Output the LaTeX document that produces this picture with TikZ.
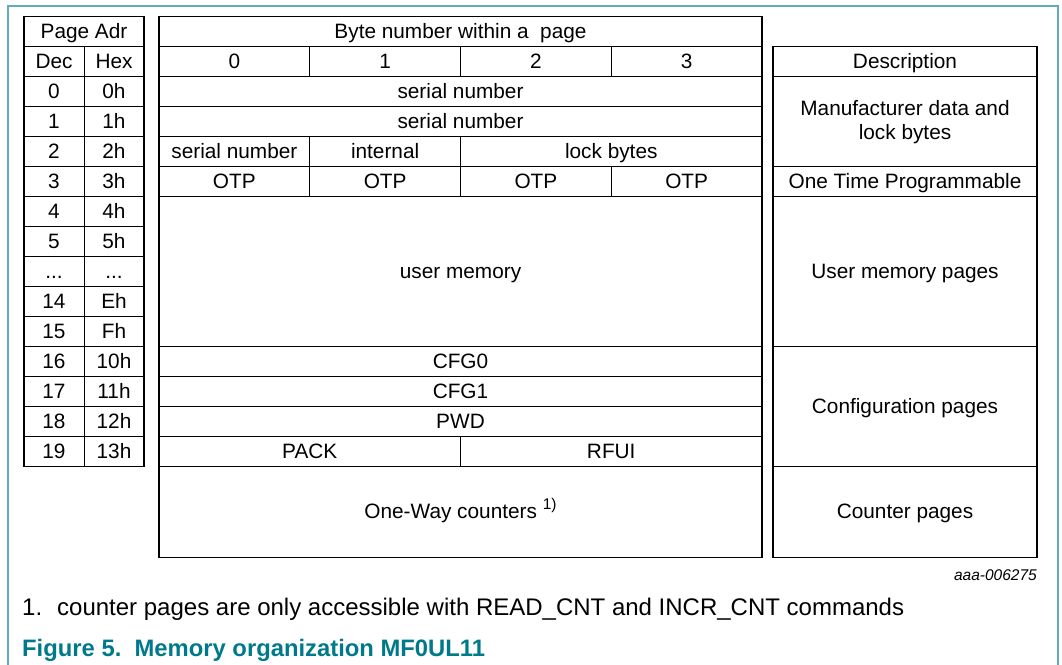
\documentclass[tikz,border=0pt]{standalone}
\usepackage{fontspec}
\setmainfont{Liberation Sans}
\definecolor{framecol}{RGB}{96,172,188}
\definecolor{capcol}{RGB}{0,122,138}
\newcommand\tabfont{\fontsize{20.8}{24}\selectfont}
\newcommand\skipped{...}
% one table cell: name, x1, y1, x2, y2, text
\newcommand\cellbox[6]{%
  \node[cell, minimum width={(#4)-(#2)}, minimum height={(#5)-(#3)}]
    (#1) at ({((#2)+(#4))/2},{((#3)+(#5))/2}) {#6};}
\begin{document}
\begin{tikzpicture}[x=1pt,y=-1pt,
  cell/.style={draw=black, line width=1pt, inner sep=0pt, outer sep=0pt,
    font=\tabfont, align=center, text height=13.5pt, text depth=0pt},
  heavy/.style={draw=black, line width=1.6pt},
  note/.style={anchor=west, inner sep=0pt, font=\fontsize{24}{28}\selectfont}]
\useasboundingbox (0,0) rectangle (1062,664);
\clip (0,0) rectangle (1062,664);
% figure frame
\draw[framecol, line width=1.5pt] (8,700) -- (8,6) -- (1058,6) -- (1058,700);

% ---- page address table ----
\cellbox{adr}{24}{16.5}{144}{46.5}{Page Adr}
\cellbox{dec}{24}{46.5}{84}{76.5}{Dec}
\cellbox{hex}{84}{46.5}{144}{76.5}{Hex}
\foreach \d/\h [count=\i from 0] in {0/0h,1/1h,2/2h,3/3h,4/4h,5/5h,\skipped/\skipped,14/Eh,15/Fh,16/10h,17/11h,18/12h,19/13h}{
  \cellbox{d\i}{24}{76.5+30*\i}{84}{106.5+30*\i}{\d}
  \cellbox{h\i}{84}{76.5+30*\i}{144}{106.5+30*\i}{\h}
}
\draw[heavy] (adr.north west) rectangle (h12.south east);
\draw[heavy] (dec.south west) -- (hex.south east);
\draw[heavy] (d2.south west) -- (h2.south east);

% ---- byte layout table ----
\cellbox{bytes}{159}{16.5}{762}{46.5}{Byte number within a\ \ page}
\foreach \k in {0,1,2,3}{
  \cellbox{b\k}{159+150.75*\k}{46.5}{159+150.75*(\k+1)}{76.5}{\k}
}
\cellbox{sn0}{159}{76.5}{762}{106.5}{serial number}
\cellbox{sn1}{159}{106.5}{762}{136.5}{serial number}
\cellbox{sn2}{159}{136.5}{309.75}{166.5}{serial number}
\cellbox{intl}{309.75}{136.5}{460.5}{166.5}{internal}
\cellbox{lock}{460.5}{136.5}{762}{166.5}{lock bytes}
\foreach \k in {0,1,2,3}{
  \cellbox{otp\k}{159+150.75*\k}{166.5}{159+150.75*(\k+1)}{196.5}{OTP}
}
\cellbox{umem}{159}{196.5}{762}{346.5}{user memory}
\cellbox{cfg0}{159}{346.5}{762}{376.5}{CFG0}
\cellbox{cfg1}{159}{376.5}{762}{406.5}{CFG1}
\cellbox{pwd}{159}{406.5}{762}{436.5}{PWD}
\cellbox{pack}{159}{436.5}{460.5}{466.5}{PACK}
\cellbox{rfui}{460.5}{436.5}{762}{466.5}{RFUI}
\cellbox{cnt}{159}{466.5}{762}{557.5}{One-Way counters \raisebox{9pt}{\fontsize{15.5}{16}\selectfont 1)}}
\draw[heavy] (bytes.north west) rectangle (cnt.south east);
\draw[heavy] (b0.south west) -- (b3.south east);
\draw[heavy] (otp0.north west) -- (otp3.north east);
\draw[heavy] (otp0.south west) -- (otp3.south east);
\draw[heavy] (cfg0.north west) -- (cfg0.north east);
\draw[heavy] (cnt.north west) -- (cnt.north east);

% ---- description table ----
\cellbox{deschd}{773}{46.5}{1037}{76.5}{Description}
\begin{scope}[cell/.append style={text height=36.9pt}]
\cellbox{manuf}{773}{76.5}{1037}{166.5}{Manufacturer data and\\lock bytes}
\end{scope}
\cellbox{otpd}{773}{166.5}{1037}{196.5}{One Time Programmable}
\cellbox{userd}{773}{196.5}{1037}{346.5}{User memory pages}
\cellbox{confd}{773}{346.5}{1037}{466.5}{Configuration pages}
\cellbox{cntd}{773}{466.5}{1037}{557.5}{Counter pages}
\draw[heavy] (deschd.north west) rectangle (cntd.south east);
\foreach \n in {deschd,manuf,otpd,userd,confd}{
  \draw[heavy] (\n.south west) -- (\n.south east);
}

% ---- figure id, footnote and caption ----
\node[anchor=base east, inner sep=0pt, font=\fontsize{15.5}{18}\selectfont\itshape]
  (figid) at (1037,580) {aaa-006275};
\node[note, anchor=base west] (fnote) at (22,615)
  {\makebox[35pt][l]{1.}counter pages are only accessible with READ\_CNT and INCR\_CNT commands};
\node[note, anchor=base west, font=\fontsize{23.8}{28}\selectfont\bfseries, text=capcol]
  (caption) at (22,656) {Figure 5.\ \ Memory organization MF0UL11};
\end{tikzpicture}
\end{document}
